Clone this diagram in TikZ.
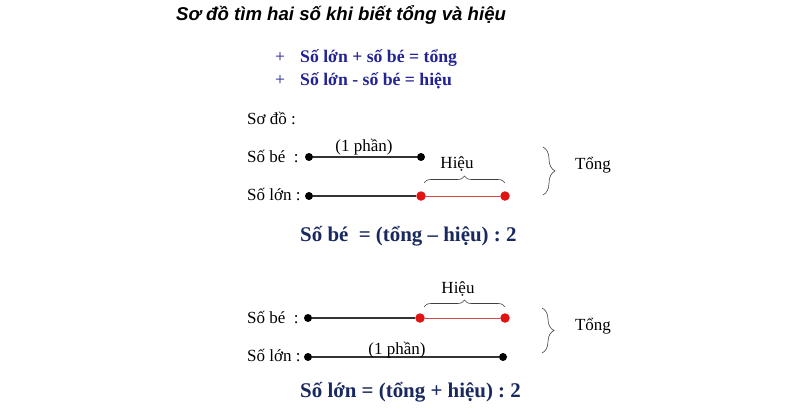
\documentclass[tikz,border=0pt]{standalone}
\usepackage{fontspec}
\setmainfont{Liberation Serif}
\newfontfamily\titlefont{Liberation Sans}
\usetikzlibrary{decorations.pathreplacing}
\definecolor{bluetxt}{RGB}{35,35,150}
\definecolor{navy}{RGB}{25,40,95}
\definecolor{dotred}{RGB}{225,20,20}
\definecolor{linered}{RGB}{215,70,70}
\frenchspacing
\begin{document}
\begin{tikzpicture}[x=1pt,y=-1pt,
  lbl/.style={anchor=base west,inner sep=0pt,font=\fontsize{17}{20}\selectfont},
  ctxt/.style={anchor=base,inner sep=0pt,font=\fontsize{17}{20}\selectfont},
  bline/.style={anchor=base west,inner sep=0pt,text=bluetxt,font=\fontsize{17.7}{21}\selectfont\bfseries},
  bplus/.style={anchor=base west,inner sep=0pt,text=bluetxt,font=\fontsize{17.7}{21}\selectfont},
  bdot/.style={circle,fill=black,inner sep=0pt,minimum size=8pt},
  rdot/.style={circle,fill=dotred,inner sep=0pt,minimum size=9.5pt},
  seg/.style={draw=black!80,line width=1.3pt},
  rseg/.style={draw=linered,line width=1pt},
  hbrace/.style={decorate,decoration={brace,amplitude=7pt},line width=0.6pt,draw=black!75},
  tbrace/.style={decorate,decoration={brace,amplitude=12pt},line width=0.6pt,draw=black!75},
  formula/.style={anchor=base west,inner sep=0pt,text=navy,font=\fontsize{20.9}{24}\selectfont\bfseries}]
\useasboundingbox (0,0) rectangle (799,413);
\fill[white] (0,0) rectangle (799,413);

\node[anchor=base west,inner sep=0pt,font=\titlefont\fontsize{18.6}{22}\selectfont\bfseries\itshape] (title) at (176,20) {Sơ đồ tìm hai số khi biết tổng và hiệu};

\node[bplus] (plus1) at (275,62) {+};
\node[bline] (rule1) at (300,62) {Số lớn + số bé = tổng};
\node[bplus] (plus2) at (275,85) {+};
\node[bline] (rule2) at (300,85) {Số lớn - số bé = hiệu};

\node[lbl] (sodo) at (247,124) {Sơ đồ :};

% ---- diagram 1
\node[lbl] (be1) at (247,162) {Số bé\ \ :};
\node[lbl] (lon1) at (247,200) {Số lớn :};
\node[bdot] (b1a) at (309,157) {};
\node[bdot] (b1b) at (421,157) {};
\node[bdot] (l1a) at (309,196) {};
\node[rdot] (l1b) at (421,196) {};
\node[rdot] (l1c) at (505,196) {};
\draw[seg] (b1a) -- (b1b);
\draw[seg] (l1a) -- (l1b);
\draw[rseg] (l1b) -- (l1c);
\node[ctxt] (phan1) at (364,151) {(1 phần)};
\coordinate (h1s) at (424,183);
\coordinate (h1e) at (505,183);
\draw[hbrace] (h1s) -- (h1e);
\node[ctxt] (hieu1) at (457,168) {Hiệu};
\coordinate (t1s) at (543,147);
\coordinate (t1e) at (543,195);
\draw[tbrace] (t1s) -- (t1e);
\node[ctxt] (tong1) at (593,169) {Tổng};
\node[formula] (f1) at (300,241) {Số bé\ \ = (tổng – hiệu) : 2};

% ---- diagram 2
\node[ctxt] (hieu2) at (458,293) {Hiệu};
\coordinate (h2s) at (424,307);
\coordinate (h2e) at (505,307);
\draw[hbrace] (h2s) -- (h2e);
\node[lbl] (be2) at (247,323) {Số bé\ \ :};
\node[lbl] (lon2) at (247,361) {Số lớn :};
\node[bdot] (b2a) at (308,318) {};
\node[rdot] (b2b) at (420,318) {};
\node[rdot] (b2c) at (505,318) {};
\node[bdot] (l2a) at (308,357) {};
\node[bdot] (l2b) at (503,357) {};
\draw[seg] (b2a) -- (b2b);
\draw[rseg] (b2b) -- (b2c);
\draw[seg] (l2a) -- (l2b);
\node[ctxt] (phan2) at (397,354) {(1 phần)};
\coordinate (t2s) at (542,308);
\coordinate (t2e) at (542,353);
\draw[tbrace] (t2s) -- (t2e);
\node[ctxt] (tong2) at (593,330) {Tổng};
\node[formula] (f2) at (300,397) {Số lớn = (tổng + hiệu) : 2};
\end{tikzpicture}
\end{document}
